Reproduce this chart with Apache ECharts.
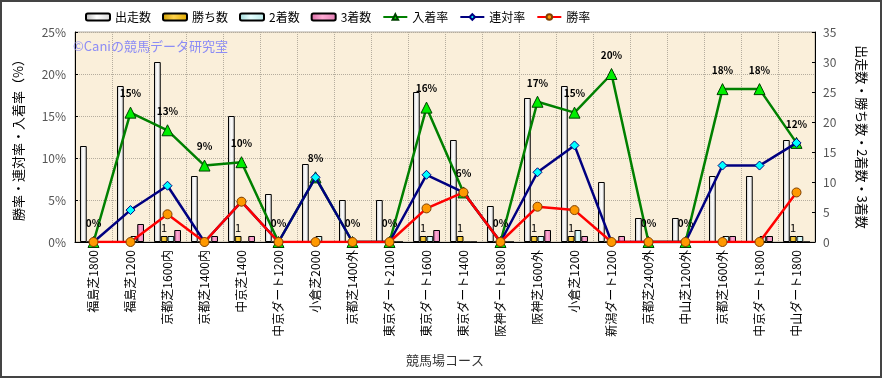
<!DOCTYPE html>
<html>
<head>
<meta charset="utf-8">
<script src="https://cdn.jsdelivr.net/npm/echarts@6/dist/echarts.min.js"></script>
<style>
html,body{margin:0;padding:0;background:#fff;}
#chart{width:882px;height:378px;}
</style>
</head>
<body>
<div id="chart"></div>
<script>
var categories = ['福島芝1800','福島芝1200','京都芝1600内','京都芝1400内','中京芝1400','中京ダート1200','小倉芝2000','京都芝1400外','東京ダート2100','東京ダート1600','東京ダート1400','阪神ダート1800','阪神芝1600外','小倉芝1200','新潟ダート1200','京都芝2400外','中山芝1200外','京都芝1600外','中京ダート1800','中山ダート1800'];
var runs   = [16, 26, 30, 11, 21, 8, 13, 7, 7, 25, 17, 6, 24, 26, 10, 4, 4, 11, 11, 17];
var wins   = [0, 0, 1, 0, 1, 0, 0, 0, 0, 1, 1, 0, 1, 1, 0, 0, 0, 0, 0, 1];
var second = [0, 1, 1, 0, 0, 0, 1, 0, 0, 1, 0, 0, 1, 2, 0, 0, 0, 1, 1, 1];
var third  = [0, 3, 2, 1, 1, 0, 0, 0, 0, 2, 0, 0, 2, 1, 1, 0, 0, 1, 1, 0];
var placeRate = [0, 15.4, 13.3, 9.1, 9.5, 0, 7.7, 0, 0, 16.0, 5.9, 0, 16.7, 15.4, 20.0, 0, 0, 18.2, 18.2, 11.8];
var quinellaRate = [0, 3.8, 6.7, 0, 4.8, 0, 7.7, 0, 0, 8.0, 5.9, 0, 8.3, 11.5, 0, 0, 0, 9.1, 9.1, 11.8];
var winRate = [0, 0, 3.3, 0, 4.8, 0, 0, 0, 0, 4.0, 5.9, 0, 4.2, 3.8, 0, 0, 0, 0, 0, 5.9];
var leftTicks = {min: 0, max: 25, interval: 5};
var rightTicks = {min: 0, max: 35, interval: 5};

var FONT = '"Noto Sans CJK JP", "Noto Sans", sans-serif';
function hgrad(a, b, c) {
  return new echarts.graphic.LinearGradient(0, 0, 1, 0, [
    {offset: 0, color: a}, {offset: 0.45, color: b}, {offset: 1, color: c}
  ]);
}
var chart = echarts.init(document.getElementById('chart'), null, {renderer: 'canvas'});
var option = {
  animation: false,
  backgroundColor: '#ffffff',
  textStyle: {fontFamily: FONT},
  graphic: [
    {type: 'rect', shape: {x: 1, y: 1, width: 880, height: 376}, style: {fill: 'none', stroke: '#444', lineWidth: 2}, z: 100},
    {type: 'text', left: 73, top: 40, style: {text: '©Caniの競馬データ研究室', fill: '#8c8cf5', font: '13px ' + FONT}, z: 1}
  ],
  legend: {
    left: 80, top: 6,
    itemWidth: 24, itemHeight: 7, itemGap: 11,
    textStyle: {fontSize: 12, color: '#000', fontFamily: FONT},
    data: ['出走数','勝ち数','2着数','3着数','入着率','連対率','勝率']
  },
  grid: {left: 75, right: 67, top: 32, bottom: 136, show: true, backgroundColor: '#faefda', borderColor: '#b0aaa0', borderWidth: 1},
  xAxis: {
    type: 'category', data: categories, boundaryGap: true,
    name: '競馬場コース', nameLocation: 'middle', nameGap: 112,
    nameTextStyle: {fontSize: 13, color: '#333'},
    axisLine: {lineStyle: {color: '#000'}},
    axisTick: {show: false},
    axisLabel: {rotate: 90, interval: 0, fontSize: 12, color: '#000', margin: 8},
    splitLine: {show: true, interval: 0, lineStyle: {type: 'dotted', color: '#b5ad9e'}}
  },
  yAxis: [
    {
      type: 'value', min: leftTicks.min, max: leftTicks.max, interval: leftTicks.interval,
      name: '勝率・連対率・入着率（%）', nameLocation: 'middle', nameGap: 50, nameRotate: 90,
      nameTextStyle: {fontSize: 13, color: '#000'},
      axisLine: {show: true, lineStyle: {color: '#000'}},
      axisTick: {show: true, inside: true, length: 3, lineStyle: {color: '#000'}},
      axisLabel: {formatter: '{value}%', fontSize: 12, color: '#555', margin: 9},
      splitLine: {show: true, lineStyle: {type: 'dotted', color: '#b5ad9e'}}
    },
    {
      type: 'value', min: rightTicks.min, max: rightTicks.max, interval: rightTicks.interval,
      position: 'right',
      name: '出走数・勝ち数・2着数・3着数', nameLocation: 'middle', nameGap: 40, nameRotate: -90,
      nameTextStyle: {fontSize: 13, color: '#000'},
      axisLine: {show: true, lineStyle: {color: '#000'}},
      axisTick: {show: true, inside: true, length: 3, lineStyle: {color: '#000'}},
      axisLabel: {fontSize: 12, color: '#555', margin: 8},
      splitLine: {show: false}
    }
  ],
  series: [
    {name: '出走数', type: 'bar', yAxisIndex: 1, data: runs, barGap: '0%', barCategoryGap: '27%',
      itemStyle: {color: hgrad('#b8b8b8', '#ffffff', '#d8d8d8'), borderColor: '#000', borderWidth: 1}},
    {name: '勝ち数', type: 'bar', yAxisIndex: 1, data: wins, barGap: '0%', barCategoryGap: '27%',
      itemStyle: {color: hgrad('#c89a00', '#ffd24a', '#e0aa00'), borderColor: '#000', borderWidth: 1},
      label: {show: true, position: 'top', distance: 3, fontSize: 11, color: '#000',
        formatter: function (p) { return p.value ? String(p.value) : ''; }}},
    {name: '2着数', type: 'bar', yAxisIndex: 1, data: second, barGap: '0%', barCategoryGap: '27%',
      itemStyle: {color: hgrad('#9fd6d6', '#e6ffff', '#b8e8e8'), borderColor: '#000', borderWidth: 1}},
    {name: '3着数', type: 'bar', yAxisIndex: 1, data: third, barGap: '0%', barCategoryGap: '27%',
      itemStyle: {color: hgrad('#d86aa3', '#ffaad4', '#e47fb5'), borderColor: '#000', borderWidth: 1}},
    {name: '入着率', type: 'line', yAxisIndex: 0, data: placeRate, z: 5,
      symbol: 'triangle', symbolSize: 11,
      lineStyle: {color: '#008000', width: 2.5},
      itemStyle: {color: '#00ee00', borderColor: '#004000', borderWidth: 1},
      label: {show: true, position: 'top', distance: 8, fontSize: 10, fontWeight: 'bold', color: '#000',
        formatter: function (p) { return Math.round(p.value) + '%'; }}},
    {name: '連対率', type: 'line', yAxisIndex: 0, data: quinellaRate, z: 6,
      symbol: 'diamond', symbolSize: 9,
      lineStyle: {color: '#000080', width: 2.5},
      itemStyle: {color: '#00ffff', borderColor: '#000080', borderWidth: 1}},
    {name: '勝率', type: 'line', yAxisIndex: 0, data: winRate, z: 7,
      symbol: 'circle', symbolSize: 9,
      lineStyle: {color: '#ff0000', width: 2.5},
      itemStyle: {color: '#ff9900', borderColor: '#804000', borderWidth: 1}}
  ]
};
chart.setOption(option);
</script>
</body>
</html>
